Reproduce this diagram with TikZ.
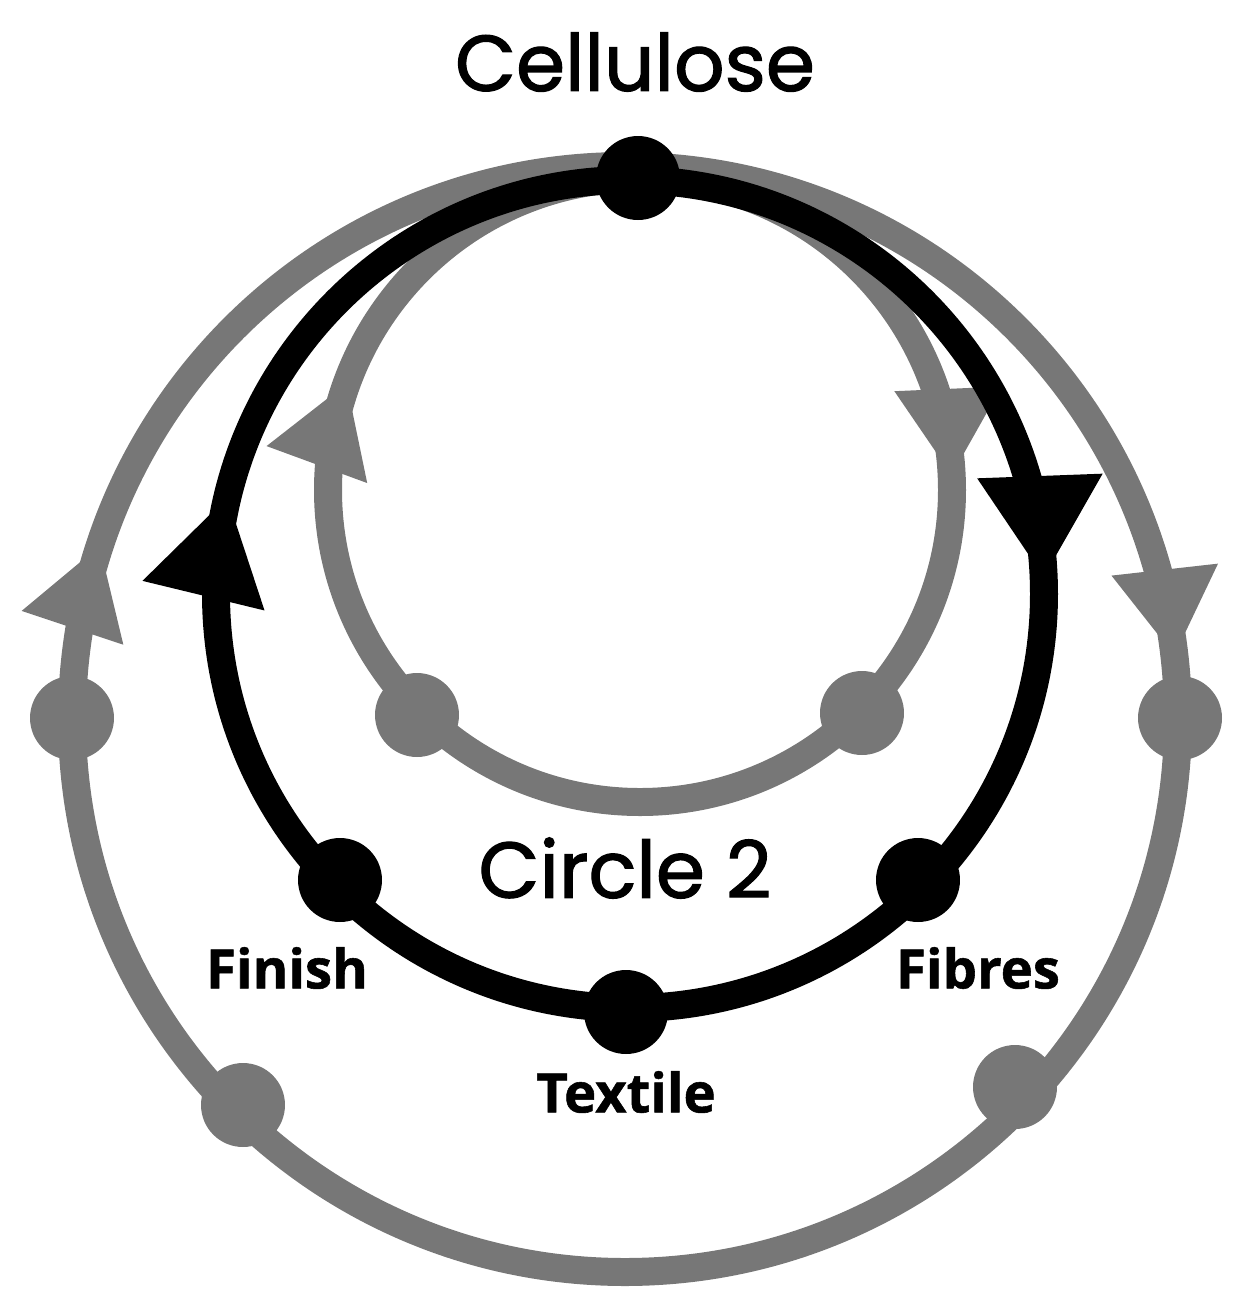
\documentclass[tikz,border=0pt]{standalone}
\usepackage{fontspec}
\setmainfont{Poppins}[FakeBold=1.5]
\newfontfamily\lab{Open Sans}[BoldFeatures={FakeBold=1}]
\usetikzlibrary{decorations.markings,arrows.meta}
\definecolor{gr}{HTML}{777777}
\begin{document}
\begin{tikzpicture}[x=0.02cm,y=-0.02cm,
  ring/.style={line width=0.56cm},
  dot/.style={circle,fill=#1,minimum size=1.68cm,inner sep=0},
  tip/.style 2 args={postaction={decorate,decoration={markings,
     mark=at position #1 with {\arrow{Triangle[length=#2,width=#2*1.15]}}}}},
  lbl/.style={font=\lab\bfseries\fontsize{31}{31}\selectfont},
  ttl/.style={font=\fontsize{45}{45}\selectfont}]
\useasboundingbox (0,0) rectangle (1237,1306);
% outer gray
\draw[ring,gr,tip={0.982}{1.75cm},tip={0.551}{1.75cm}] (625,719) circle (553);
% inner gray
\draw[ring,gr,tip={0.993}{1.75cm},tip={0.556}{1.75cm}] (640,490) circle (312);
% black
\draw[ring,black,tip={0.994}{2.05cm},tip={0.538}{2.05cm}] (630,594) circle (414);
% nodes
\node[dot=gr] (o1) at (72,718) {};
\node[dot=gr] (o2) at (1180,718) {};
\node[dot=gr] (o3) at (243,1105) {};
\node[dot=gr] (o4) at (1015,1087) {};
\node[dot=gr] (i1) at (417,715) {};
\node[dot=gr] (i2) at (862,713) {};
\node[dot=black] (top) at (638,178) {};
\node[dot=black] (fin) at (340,880) {};
\node[dot=black] (fib) at (918,880) {};
\node[dot=black] (tex) at (626,1012) {};
\node[ttl] (cel) at (635,62) {Cellulose};
\node[ttl] (c2) at (625,868) {Circle 2};
\node[lbl] (lf) at (287,968) {Finish};
\node[lbl] (lb) at (978,968) {Fibres};
\node[lbl] (lt) at (626,1092) {Textile};
\end{tikzpicture}
\end{document}
